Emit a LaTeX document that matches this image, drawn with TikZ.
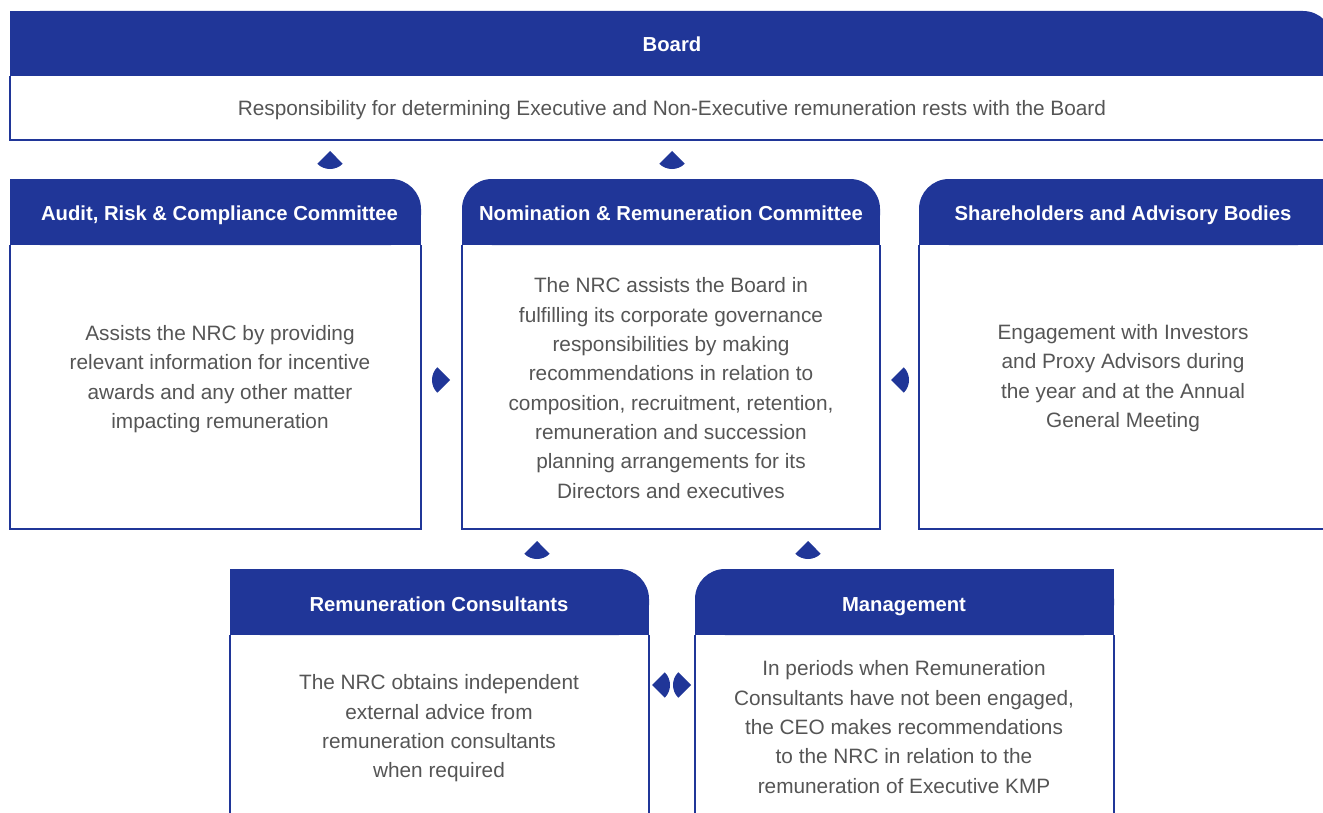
\documentclass[tikz,border=0pt]{standalone}
\usepackage{fontspec}
\setmainfont{Liberation Sans}
\definecolor{hdrblue}{RGB}{32,54,152}
\definecolor{txtgray}{RGB}{85,85,85}
\tikzset{
  hdrfill/.style={fill=hdrblue},
  bodyline/.style={draw=hdrblue, line width=1.1pt},
  hdrtext/.style={text=white, font=\fontsize{15.2pt}{18pt}\selectfont\bfseries, inner sep=0pt, anchor=base},
  bodytext/.style={text=txtgray, font=\fontsize{15.6pt}{22pt}\selectfont, align=center, inner sep=0pt},
  fanmark/.pic={\fill[hdrblue] (0,6.75pt) -- (-9.55pt,-2.8pt) arc[start angle=225,end angle=315,radius=13.5pt] -- cycle;}
}
\begin{document}
\begin{tikzpicture}[x=0.75pt,y=-0.75pt]
\useasboundingbox (0,0) rectangle (1323,813);
\clip (0,0) rectangle (1323,813);
% ---------- Board ----------
\draw[bodyline] (10,76) -- (10,140) -- (1340,140);
\fill[hdrblue, rounded corners=22.5pt] (10,11) rectangle (1333,76);
\fill[hdrblue] (10,40) rectangle (1333,76);
\fill[hdrblue] (10,11) rectangle (700,76);
\node[hdrtext] (boardh) at (672,51.3) {Board};
\node[bodytext, anchor=base] (boardb) at (672,115.5) {Responsibility for determining Executive and Non-Executive remuneration rests with the Board};
% ---------- Audit ----------
\draw[bodyline] (10,245) -- (10,529) -- (421,529) -- (421,245);
\fill[hdrblue, rounded corners=22.5pt] (10,179) rectangle (421,245);
\fill[hdrblue] (10,212) rectangle (421,245);
\fill[hdrblue] (10,179) rectangle (215,245);
\node[hdrtext] (audith) at (219.5,220.3) {Audit, Risk \& Compliance Committee};
\node[bodytext] (auditb) at (220,379) {Assists the NRC by providing\\relevant information for incentive\\awards and any other matter\\impacting remuneration};
% ---------- NRC ----------
\draw[bodyline] (462,245) -- (462,529) -- (880,529) -- (880,245);
\fill[hdrblue, rounded corners=22.5pt] (462,179) rectangle (880,245);
\fill[hdrblue] (462,212) rectangle (880,245);
\node[hdrtext] (nrch) at (671,220.3) {Nomination \& Remuneration Committee};
\node[bodytext] (nrcb) at (671,388) {The NRC assists the Board in\\fulfilling its corporate governance\\responsibilities by making\\recommendations in relation to\\composition, recruitment, retention,\\remuneration and succession\\planning arrangements for its\\Directors and executives};
% ---------- Shareholders ----------
\draw[bodyline] (1340,529) -- (919,529) -- (919,245);
\fill[hdrblue, rounded corners=22.5pt] (919,179) rectangle (1328,245);
\fill[hdrblue] (919,212) rectangle (1328,245);
\fill[hdrblue] (1120,179) rectangle (1328,245);
\node[hdrtext] (shareh) at (1123,220.3) {Shareholders and Advisory Bodies};
\node[bodytext] (shareb) at (1123,378) {Engagement with Investors\\and Proxy Advisors during\\the year and at the Annual\\General Meeting};
% ---------- Remuneration Consultants ----------
\draw[bodyline] (230,635) -- (230,830) (649,830) -- (649,635);
\fill[hdrblue, rounded corners=22.5pt] (230,569) rectangle (649,635);
\fill[hdrblue] (230,602) rectangle (649,635);
\fill[hdrblue] (230,569) rectangle (440,635);
\node[hdrtext] (remh) at (439,611.3) {Remuneration Consultants};
\node[bodytext] (remb) at (439,728.5) {The NRC obtains independent\\external advice from\\remuneration consultants\\when required};
% ---------- Management ----------
\draw[bodyline] (695,635) -- (695,830) (1114,830) -- (1114,635);
\fill[hdrblue, rounded corners=22.5pt] (695,569) rectangle (1114,635);
\fill[hdrblue] (695,602) rectangle (1114,635);
\fill[hdrblue] (900,569) rectangle (1114,635);
\node[hdrtext] (mgmth) at (904,611.3) {Management};
\node[bodytext] (mgmtb) at (904,727) {In periods when Remuneration\\Consultants have not been engaged,\\the CEO makes recommendations\\to the NRC in relation to the\\remuneration of Executive KMP};
% ---------- Markers ----------
\pic at (330,160) {fanmark};
\pic at (672,160) {fanmark};
\pic[rotate=-90] at (441,380) {fanmark};
\pic[rotate=90] at (900,380) {fanmark};
\pic at (537,550) {fanmark};
\pic at (808,550) {fanmark};
\pic[rotate=90] at (661,685) {fanmark};
\pic[rotate=-90] at (682,685) {fanmark};
\end{tikzpicture}
\end{document}
